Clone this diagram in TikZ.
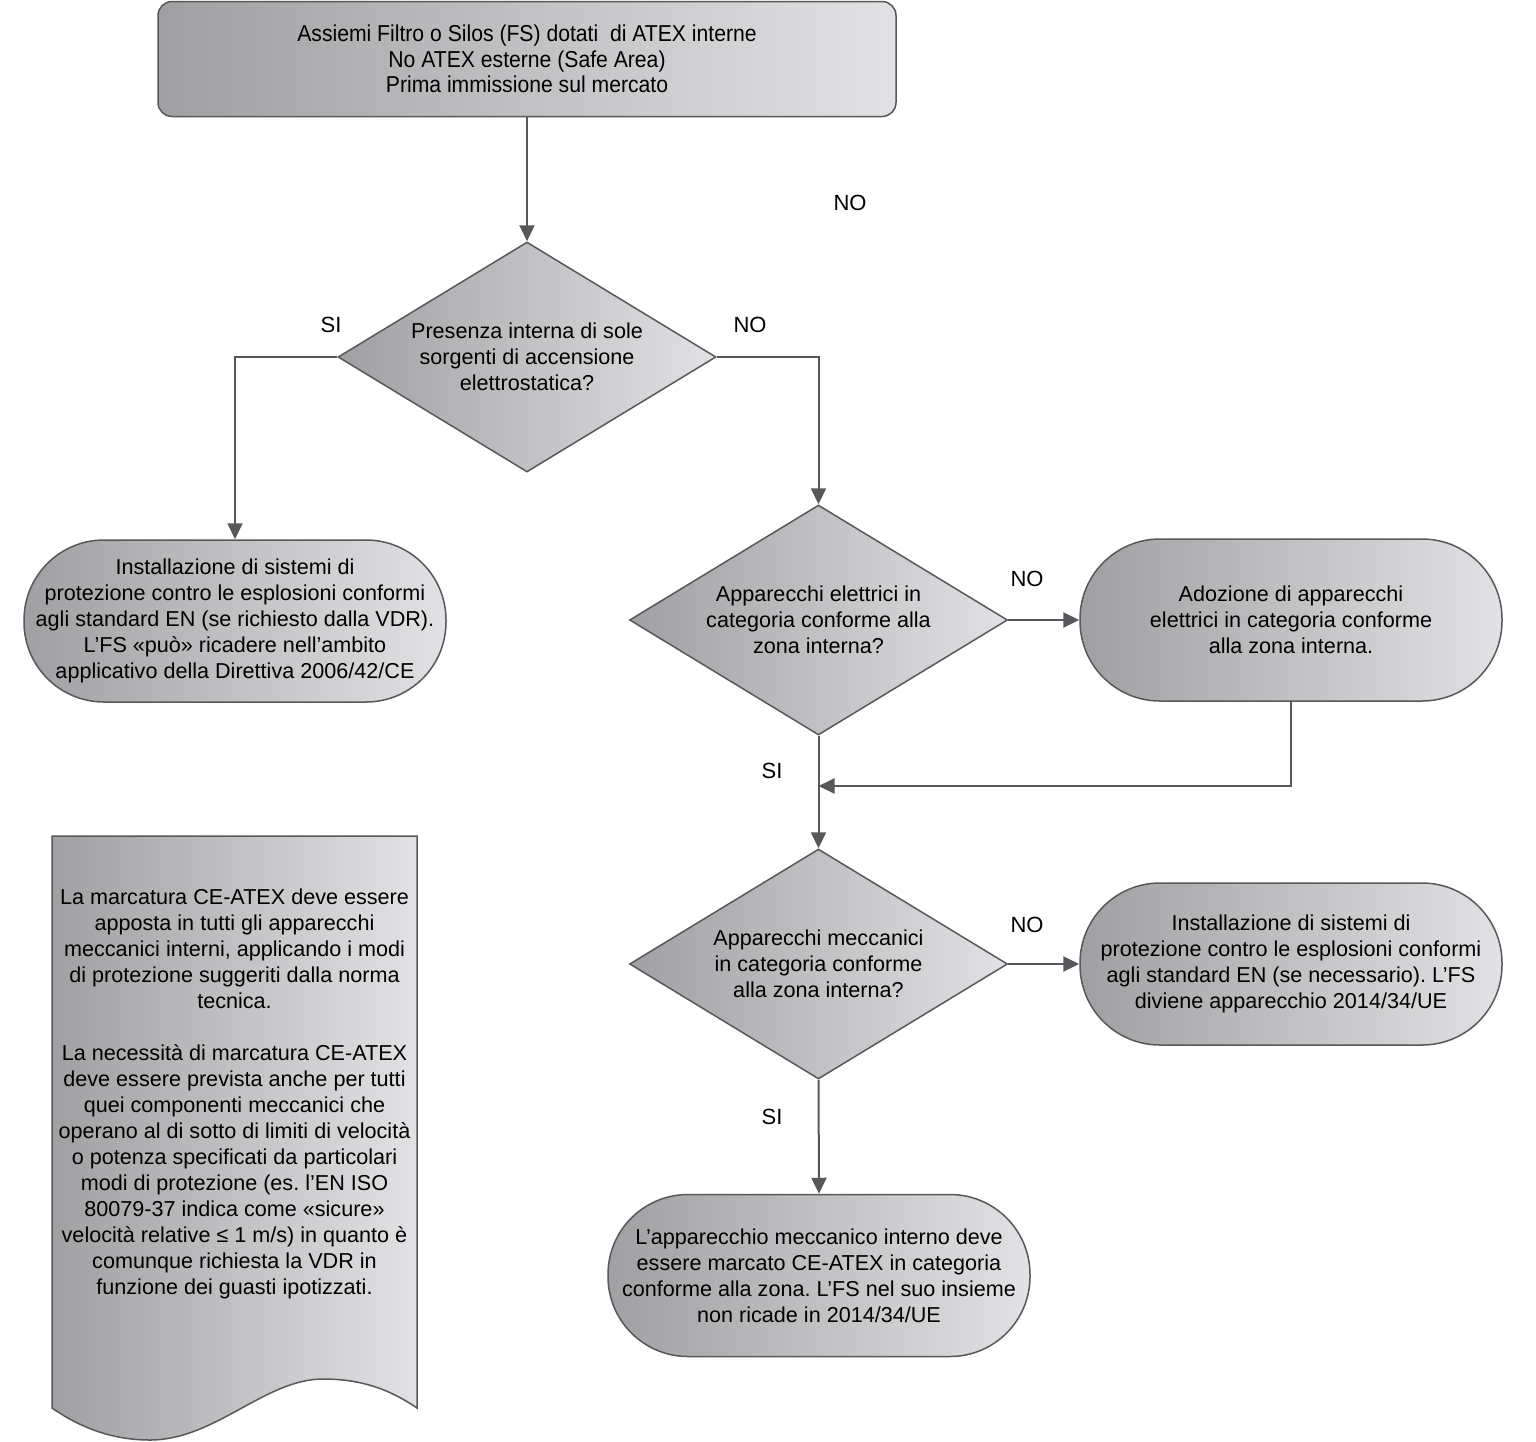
\documentclass[tikz,border=0pt]{standalone}
\usepackage{fontspec}
\setmainfont{Liberation Sans}
\newfontfamily\narrowfont[FakeStretch=0.92]{Liberation Sans}
\usetikzlibrary{shapes.geometric,arrows.meta,calc}
\frenchspacing
\definecolor{ln}{HTML}{58585A}
\definecolor{gdark}{HTML}{A0A0A3}
\definecolor{glight}{HTML}{E2E2E4}
\tikzset{
  base/.style={draw=ln, line width=1.5pt, left color=gdark, right color=glight, align=center, font=\fontsize{21.6}{26}\selectfont, inner sep=0pt, text=black},
  stadium/.style={base, rectangle, rounded corners=80pt, minimum width=422pt, minimum height=162pt},
  decision/.style={base, diamond, aspect=1.643, minimum width=378pt, minimum height=230pt},
  conn/.style={draw=ln, line width=2pt, -{Triangle[length=16pt,width=15pt]}},
  lbl/.style={font=\fontsize{22}{24}\selectfont, inner sep=0pt}
}
\begin{document}
\begin{tikzpicture}[x=1pt,y=-1pt]
\useasboundingbox (0,0) rectangle (1536,1441);

\node[base, rectangle, rounded corners=14pt, minimum width=738pt, minimum height=115pt, font=\narrowfont\fontsize{23}{25.5}\selectfont] (top) at (527,59)
  {Assiemi Filtro o Silos (FS) dotati\ \ di ATEX interne\\No ATEX esterne (Safe Area)\\Prima immissione sul mercato};

\node[decision] (d1) at (527,357) {Presenza interna di sole\\sorgenti di accensione\\elettrostatica?};
\node[decision] (d2) at (818.5,620) {Apparecchi elettrici in\\categoria conforme alla\\zona interna?};
\node[decision] (d3) at (818.5,964) {Apparecchi meccanici\\in categoria conforme\\alla zona interna?};

\node[stadium] (s1) at (235,621) {Installazione di sistemi di\\protezione contro le esplosioni conformi\\agli standard EN (se richiesto dalla VDR).\\L’FS «può» ricadere nell’ambito\\applicativo della Direttiva 2006/42/CE};
\node[stadium] (s2) at (1291,620) {Adozione di apparecchi\\elettrici in categoria conforme\\alla zona interna.};
\node[stadium] (s3) at (1291,964) {Installazione di sistemi di\\protezione contro le esplosioni conformi\\agli standard EN (se necessario). L’FS\\diviene apparecchio 2014/34/UE};
\node[stadium] (s4) at (819,1275.5) {L’apparecchio meccanico interno deve\\essere marcato CE-ATEX in categoria\\conforme alla zona. L’FS nel suo insieme\\non ricade in 2014/34/UE};

% document shape
\path[draw=ln, line width=1.5pt, left color=gdark, right color=glight]
  (52,836) -- (417,836) -- (417,1408)
  .. controls (385,1386) and (355,1379) .. (323,1379)
  .. controls (265,1379) and (215,1440) .. (150,1440)
  .. controls (110,1440) and (78,1426) .. (52,1408) -- cycle;
\node[align=center, font=\fontsize{21.6}{26}\selectfont, inner sep=0pt] (doc) at (234.5,1093.5)
  {La marcatura CE-ATEX deve essere\\apposta in tutti gli apparecchi\\meccanici interni, applicando i modi\\di protezione suggeriti dalla norma\\tecnica.\\[26pt]La necessità di marcatura CE-ATEX\\deve essere prevista anche per tutti\\quei componenti meccanici che\\operano al di sotto di limiti di velocità\\o potenza specificati da particolari\\modi di protezione (es. l’EN ISO\\80079-37 indica come «sicure»\\velocità relative ≤ 1 m/s) in quanto è\\comunque richiesta la VDR in\\funzione dei guasti ipotizzati.};

% connectors
\coordinate (j) at (818.5,786);
\draw[conn] (top.south) -- (d1.north);
\draw[conn] (d1.west) -| (s1.north);
\draw[conn] (d1.east) -| (d2.north);
\draw[conn] (d2.east) -- (s2.west);
\draw[conn] (s2.south) |- (j);
\draw[conn] (d2.south) -- (d3.north);
\draw[conn] (d3.east) -- (s3.west);
\draw[conn] (d3.south) -- (s4.north);

% labels
\node[lbl] (l0) at (850,203) {NO};
\node[lbl] (l1) at (331,325) {SI};
\node[lbl] (l2) at (750,325) {NO};
\node[lbl] (l3) at (1027,579) {NO};
\node[lbl] (l4) at (772,771) {SI};
\node[lbl] (l5) at (1027,925) {NO};
\node[lbl] (l6) at (772,1117) {SI};
\end{tikzpicture}
\end{document}
